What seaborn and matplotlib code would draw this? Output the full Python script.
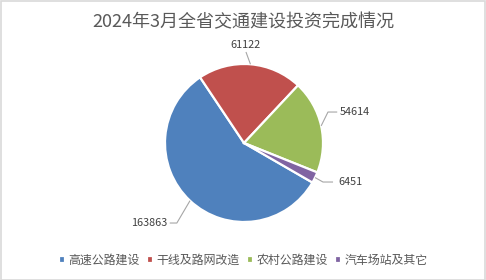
import numpy as np
import matplotlib
matplotlib.use("Agg")
import matplotlib.pyplot as plt
from matplotlib.patches import Rectangle
import seaborn as sns

# Investment completed by category (万元)
categories = ["高速公路建设", "干线及路网改造", "农村公路建设", "汽车场站及其它"]
values = [163863, 61122, 54614, 6451]
title = "2024年3月全省交通建设投资完成情况"

sns.set_theme(style="white")
plt.rcParams["font.family"] = ["Noto Sans CJK SC", "DejaVu Sans"]

colors = sns.color_palette(["#4F81BD", "#C0504D", "#9BBB59", "#8064A2"])

W, H = 486, 280
fig = plt.figure(figsize=(W / 100, H / 100), dpi=100)
fig.patch.set_facecolor("white")

# Pie geometry in pixels (centre and radius); one data unit == r_px pixels
cx, cy, r_px = 244, 143, 79
ax = fig.add_axes([0, 0, 1, 1])

wedges, _ = ax.pie(values, colors=colors, startangle=-30, counterclock=False,
                   radius=1.0, center=(0, 0),
                   wedgeprops=dict(edgecolor="white", linewidth=1.6))
ax.set_aspect("auto")
ax.set_xlim(-cx / r_px, (W - cx) / r_px)
ax.set_ylim(-(H - cy) / r_px, cy / r_px)
ax.axis("off")

# Value labels with leader lines: (elbow, line end, text pos, ha)
label_layout = [
    ((-0.85, -1.013), (-0.94, -1.013), (-0.97, -1.013), "right"),
    ((0.025, 1.152), (0.025, 1.152), (0.013, 1.245), "center"),
    ((1.063, 0.392), (1.18, 0.392), (1.21, 0.392), "left"),
    ((1.0, -0.494), (1.127, -0.494), (1.19, -0.494), "left"),
]
for w, v, (elbow, end, txt, ha) in zip(wedges, values, label_layout):
    mid = np.deg2rad((w.theta1 + w.theta2) / 2)
    p0 = (np.cos(mid), np.sin(mid))
    ax.plot([p0[0], elbow[0], end[0]], [p0[1], elbow[1], end[1]],
            color="#A6A6A6", lw=0.8, solid_capstyle="butt")
    ax.text(txt[0], txt[1], f"{v}", ha=ha, va="center", fontsize=7.8,
            color="#404040")

fig.text(0.5, 1 - 22 / H, title, ha="center", va="center", fontsize=13,
         color="#595959")

fig.legend(wedges, categories, loc="center", bbox_to_anchor=(0.5, 1 - 260 / H),
           ncol=4, frameon=False, fontsize=8.6, handlelength=0.5,
           handleheight=0.5, handletextpad=0.3, columnspacing=0.6,
           labelcolor="#595959")

# Light grey chart border
fig.patches.append(Rectangle((0.5 / W, 0.5 / H), 1 - 1.5 / W, 1 - 1.5 / H,
                             transform=fig.transFigure, fill=False,
                             edgecolor="#D9D9D9", linewidth=1.2))

fig.savefig("out.png", dpi=100, facecolor="white")
